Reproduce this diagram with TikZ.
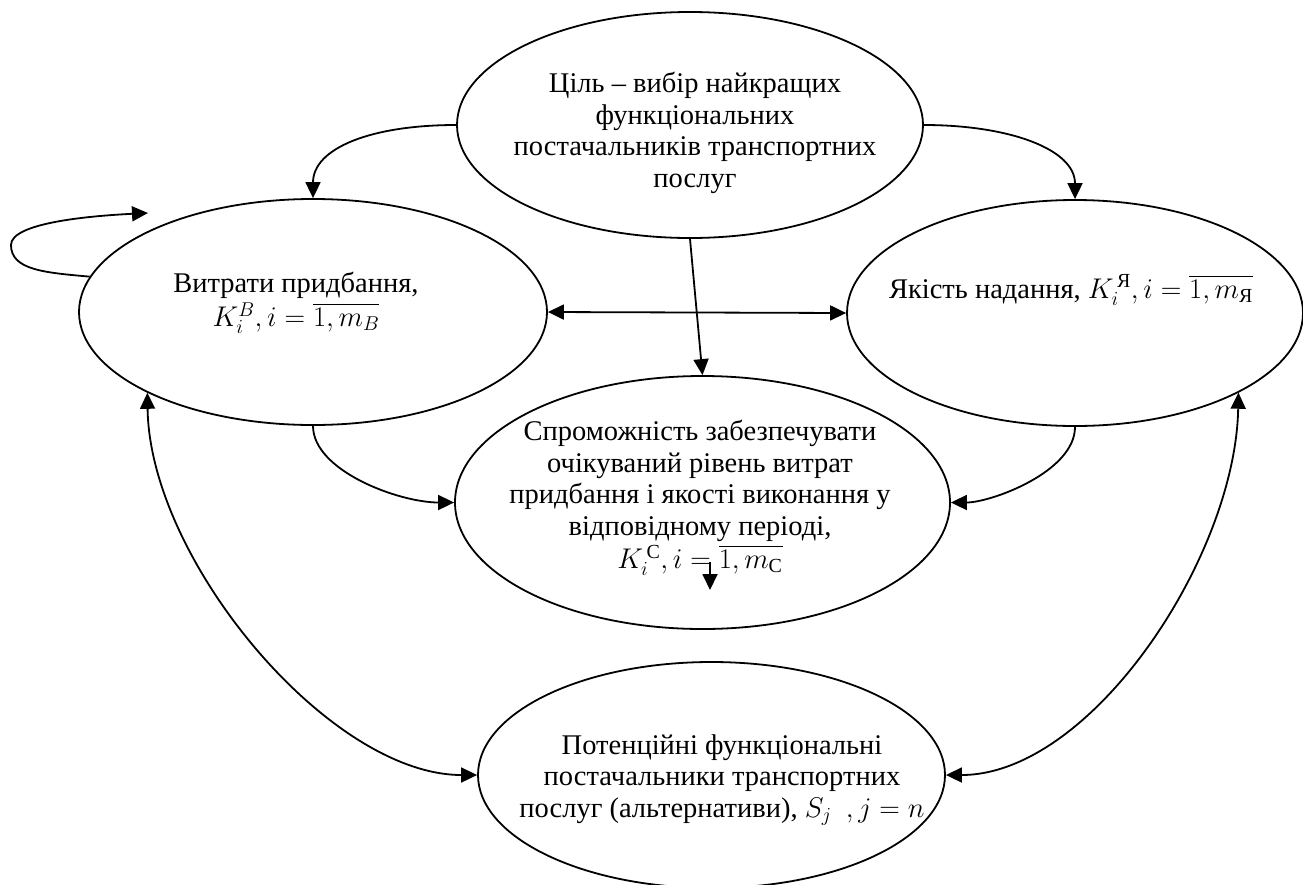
\RequirePackage{fix-cm}
\documentclass[tikz,border=0pt]{standalone}
\usepackage{amsmath}
\usepackage{fontspec}
\setmainfont{Liberation Serif}
\usetikzlibrary{arrows.meta,shapes.geometric}
\begin{document}
\begin{tikzpicture}[x=1pt,y=-1pt,
  ell/.style={draw, ellipse, line width=1.8pt, inner sep=0pt},
  lbl/.style={align=center, font=\fontsize{28.5}{31.5}\selectfont, inner sep=0pt},
  arr/.style={line width=1.8pt, -{Triangle[length=16pt,width=15pt]}},
  darr/.style={line width=1.8pt, {Triangle[length=16pt,width=15pt]}-{Triangle[length=16pt,width=15pt]}}]
\useasboundingbox (0,0) rectangle (1303,884);
% ellipses
\node[ell, minimum width=466pt, minimum height=226pt] (goal) at (690,125) {};
\node[ell, minimum width=468pt, minimum height=226pt] (lft) at (313,312) {};
\node[ell, minimum width=456pt, minimum height=226pt] (rgt) at (1075,313) {};
\node[ell, minimum width=495pt, minimum height=253pt] (mid) at (702.5,502.5) {};
\node[ell, minimum width=467pt, minimum height=226pt] (bot) at (711.5,775) {};
% texts
\node[lbl] (goalt) at (695,133) {Ціль – вибір найкращих\\функціональних\\постачальників транспортних\\послуг};
\node[lbl] (lftt) at (296,303) {Витрати придбання,\\[2pt]$K_i^B, i=\overline{1,m_B}$};
\node[lbl] (rgtt) at (1071,290) {Якість надання, $K_i^{\,\text{Я}}, i=\overline{1,m_{\text{Я}}}$};
\node[lbl] (midt) at (700,498) {Спроможність забезпечувати\\очікуваний рівень витрат\\придбання і якості виконання у\\відповідному періоді,\\[2pt]$K_i^{\,\text{С}}, i=\overline{1,m_{\text{С}}}$};
\node[lbl] (bott) at (722,780) {Потенційні функціональні\\постачальники транспортних\\послуг (альтернативи), $S_j\ \ , j=n$};
% helper coordinates
\coordinate (loopL) at (11,245);
\coordinate (loopT) at (148,213);
\coordinate (sa1) at (710,562);
\coordinate (sa2) at (710,590);
% connectors
\draw[arr] (goal.west) .. controls +(-85,0) and +(0,-50) .. (lft.north);
\draw[arr] (goal.east) .. controls +(85,0) and +(0,-50) .. (rgt.north);
\draw[arr] (goal.south) -- (mid.north);
\draw[darr] (lft.east) -- (rgt.west);
\draw[arr] (lft.south) .. controls +(0,45) and +(-55,0) .. (mid.west);
\draw[arr] (rgt.south) .. controls +(0,45) and +(40,0) .. (mid.east);
\draw[darr] (lft.206) .. controls +(2,167) and +(-148,0) .. (bot.west);
\draw[darr] (rgt.334) .. controls +(-3,165) and +(145,0) .. (bot.east);
\draw[arr] (lft.171.5) .. controls +(-45,-4) and +(0,25) .. (loopL) .. controls +(0,-22) and +(-60,3) .. (loopT);
\draw[arr] (sa1) -- (sa2);
\end{tikzpicture}
\end{document}
